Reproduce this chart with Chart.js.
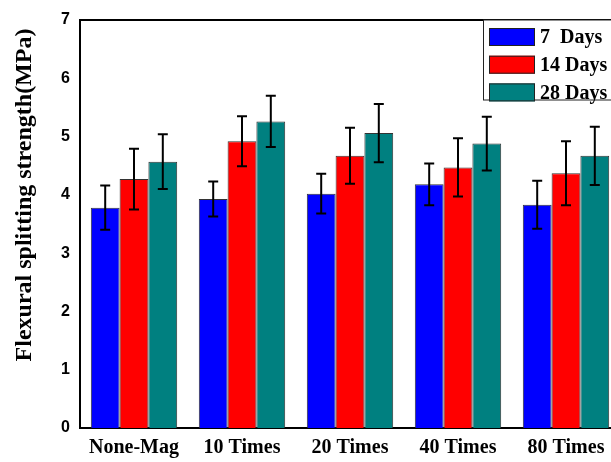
<!DOCTYPE html>
<html>
<head>
<meta charset="utf-8">
<script src="https://cdn.jsdelivr.net/npm/chart.js@4"></script>
<style>
html,body{margin:0;padding:0;background:#fff;overflow:hidden;}
#wrap{width:640px;height:462px;}
</style>
</head>
<body>
<div id="wrap"><canvas id="c" width="640" height="462"></canvas></div>
<script>
const categories = ["None-Mag", "10 Times", "20 Times", "40 Times", "80 Times"];
const seriesNames = ["7  Days", "14 Days", "28 Days"];
const days7 = [3.78, 3.93, 4.02, 4.18, 3.83];
const days14 = [4.27, 4.92, 4.67, 4.47, 4.37];
const days28 = [4.57, 5.26, 5.06, 4.88, 4.67];
const err7 = [0.38, 0.30, 0.34, 0.36, 0.41];
const err14 = [0.52, 0.43, 0.48, 0.50, 0.55];
const err28 = [0.47, 0.44, 0.50, 0.46, 0.50];
const yTicks = [0, 1, 2, 3, 4, 5, 6, 7];
const yTitle = 'Flexural splitting strength(MPa)';
const colors = ["#0000FF", "#FF0000", "#008080"];
const serif = '"Liberation Serif", "Times New Roman", serif';

const errorBars = {
  id: 'errorBars',
  afterDatasetsDraw(chart) {
    const ctx = chart.ctx;
    const y = chart.scales.y;
    ctx.save();
    ctx.strokeStyle = '#000';
    ctx.lineWidth = 2;
    chart.data.datasets.forEach((ds, i) => {
      const meta = chart.getDatasetMeta(i);
      meta.data.forEach((bar, j) => {
        const v = ds.data[j], e = ds.errors[j];
        const yt = y.getPixelForValue(v + e), yb = y.getPixelForValue(v - e);
        const x = bar.x, cw = 5;
        ctx.beginPath();
        ctx.moveTo(x, yt); ctx.lineTo(x, yb);
        ctx.moveTo(x - cw, yt); ctx.lineTo(x + cw, yt);
        ctx.moveTo(x - cw, yb); ctx.lineTo(x + cw, yb);
        ctx.stroke();
      });
    });
    ctx.restore();
  }
};

const frameLegend = {
  id: 'frameLegend',
  afterDraw(chart) {
    const ctx = chart.ctx;
    const a = chart.chartArea;
    ctx.save();
    ctx.strokeStyle = '#000';
    ctx.lineWidth = 2;
    ctx.beginPath();
    ctx.moveTo(a.left - 1, a.top);
    ctx.lineTo(a.right, a.top);
    ctx.lineTo(a.right, a.bottom);
    ctx.stroke();
    // y title
    ctx.save();
    ctx.translate(25, 195);
    ctx.rotate(-Math.PI / 2);
    ctx.fillStyle = '#000';
    ctx.font = 'bold 24px ' + serif;
    ctx.textAlign = 'center';
    ctx.textBaseline = 'middle';
    ctx.fillText(yTitle, 0, 0);
    ctx.restore();
    // legend box
    const lx = 483, ly = a.top, lw = 150, lh = 80;
    ctx.fillStyle = '#fff';
    ctx.fillRect(lx, ly, lw, lh);
    ctx.lineWidth = 1;
    ctx.strokeStyle = '#222';
    ctx.strokeRect(lx + 0.5, ly, lw, lh);
    ctx.font = 'bold 20px ' + serif;
    ctx.textBaseline = 'middle';
    chart.data.datasets.forEach((ds, i) => {
      const sy = 28 + i * 27.7;
      ctx.fillStyle = ds.backgroundColor;
      ctx.fillRect(489, sy, 46, 18);
      ctx.strokeStyle = '#222';
      ctx.strokeRect(489.5, sy + 0.5, 45, 17);
      ctx.fillStyle = '#000';
      ctx.fillText(ds.label, 540, sy + 10);
    });
    ctx.restore();
  }
};

const datasets = [days7, days14, days28].map((d, i) => ({
  label: seriesNames[i],
  data: d,
  errors: [err7, err14, err28][i],
  backgroundColor: colors[i],
  borderColor: '#333',
  borderWidth: 1,
  categoryPercentage: 0.8,
  barPercentage: 1.0
}));

new Chart(document.getElementById('c'), {
  type: 'bar',
  data: { labels: categories, datasets },
  options: {
    responsive: false,
    animation: false,
    layout: { padding: { left: 0, right: 20, top: 20, bottom: 0 } },
    plugins: { legend: { display: false }, tooltip: { enabled: false } },
    scales: {
      x: {
        grid: { display: false, drawTicks: false },
        border: { display: true, color: '#000', width: 2 },
        ticks: { color: '#000', padding: 8, font: { family: serif, weight: 'bold', size: 20 } },
        afterFit(s) { s.height = 34; }
      },
      y: {
        min: 0, max: 7,
        afterBuildTicks(s) { s.ticks = yTicks.map(v => ({ value: v })); },
        grid: { display: false, drawTicks: false },
        border: { display: true, color: '#000', width: 2 },
        ticks: { color: '#000', padding: 10, font: { family: '"Liberation Sans", Arial, sans-serif', weight: 'bold', size: 16 } },
        title: { display: false },
        afterFit(s) { s.width = 80; }
      }
    }
  },
  plugins: [errorBars, frameLegend]
});
</script>
</body>
</html>
